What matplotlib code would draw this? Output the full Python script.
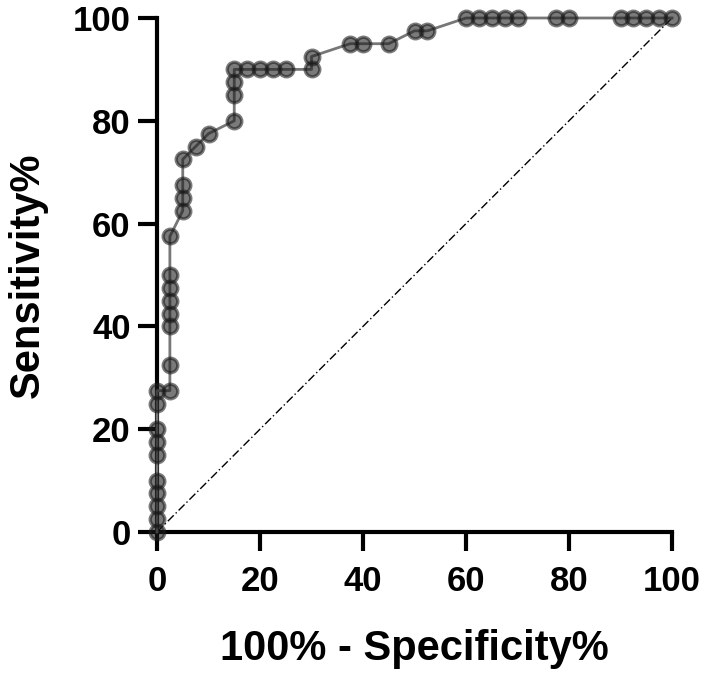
import matplotlib
matplotlib.use("Agg")
import matplotlib.pyplot as plt

plt.rcParams['font.family'] = ['Liberation Sans', 'DejaVu Sans']
plt.rcParams['font.weight'] = 'bold'

# ROC curve points (100% - Specificity%, Sensitivity%)
fpr = [0, 0, 0, 0, 0, 0, 0, 0, 0, 0,
       2.5, 2.5, 2.5, 2.5, 2.5, 2.5, 2.5, 2.5,
       5, 5, 5, 5, 7.5, 10,
       15, 15, 15, 15, 17.5, 20, 22.5, 25,
       30, 30, 37.5, 40, 45, 50, 52.5,
       60, 62.5, 65, 67.5, 70, 77.5, 80,
       90, 92.5, 95, 97.5, 100]
tpr = [0, 2.5, 5, 7.5, 10, 15, 17.5, 20, 25, 27.5,
       27.5, 32.5, 40, 42.5, 45, 47.5, 50, 57.5,
       62.5, 65, 67.5, 72.5, 75, 77.5,
       80, 85, 87.5, 90, 90, 90, 90, 90,
       90, 92.5, 95, 95, 95, 97.5, 97.5,
       100, 100, 100, 100, 100, 100, 100,
       100, 100, 100, 100, 100]
ref_line = [0, 100]
ticks = [0, 20, 40, 60, 80, 100]
xlabel = "100% - Specificity%"
ylabel = "Sensitivity%"

fig = plt.figure(figsize=(7.08, 6.74), dpi=100)
ax = fig.add_axes([157/708, 1-532/674, 515/708, 514/674])

ax.plot(ref_line, ref_line, color='black', lw=1.0, linestyle=(0, (6, 2, 1, 2)), zorder=2)
ax.plot(fpr, tpr, color='#777777', lw=2.0, zorder=3, clip_on=False)
ax.plot(fpr, tpr, linestyle='none', marker='o', markersize=10.5,
        markerfacecolor=(0.1, 0.1, 0.1, 0.58), markeredgecolor=(0.1, 0.1, 0.1, 0.58),
        markeredgewidth=2.4, zorder=4, clip_on=False)

ax.set_xlim(0, 100)
ax.set_ylim(0, 100)
ax.set_xticks(ticks)
ax.set_yticks(ticks)
for s in ['top', 'right']:
    ax.spines[s].set_visible(False)
for s in ['left', 'bottom']:
    ax.spines[s].set_linewidth(3)
ax.tick_params(axis='both', length=14, width=3, labelsize=25)
ax.tick_params(axis='x', pad=10)
ax.tick_params(axis='y', pad=5)
for lab in ax.get_xticklabels() + ax.get_yticklabels():
    lab.set_fontweight('bold')

ax.set_xlabel(xlabel, fontsize=30, fontweight='bold', labelpad=22)
ax.set_ylabel(ylabel, fontsize=30, fontweight='bold', labelpad=18)

fig.savefig('out.png', dpi=100)
